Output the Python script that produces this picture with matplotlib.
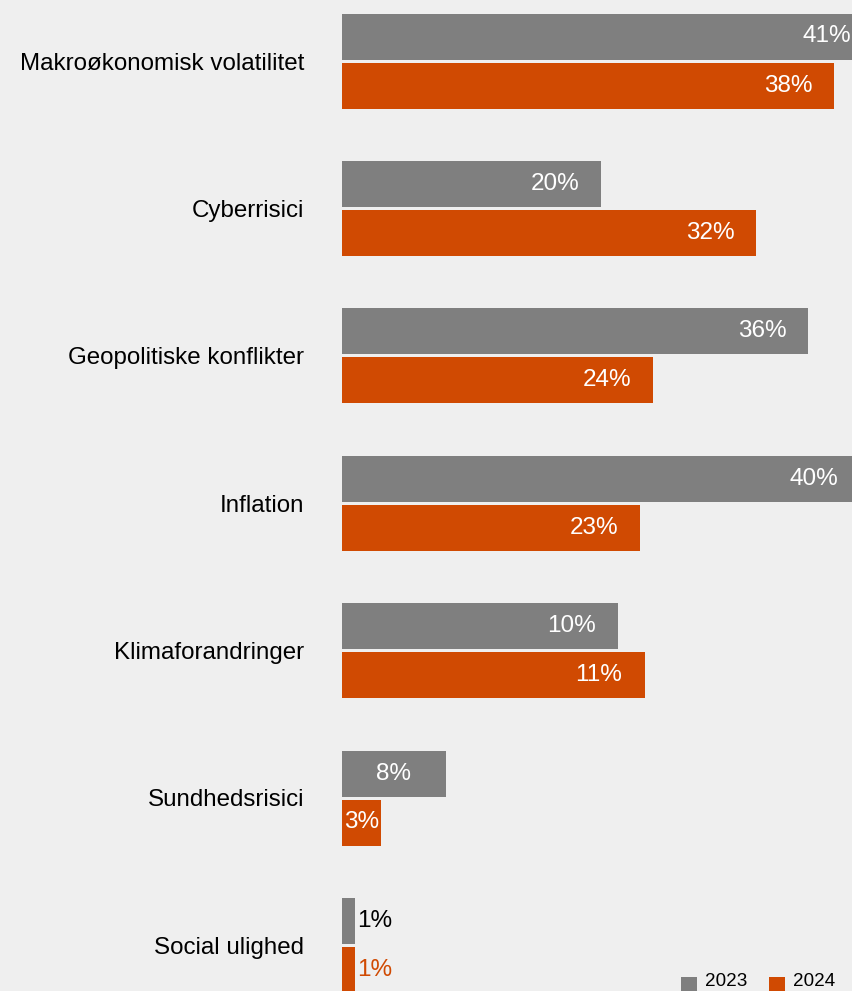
import matplotlib
matplotlib.use("Agg")
import matplotlib.pyplot as plt
from matplotlib.patches import Rectangle

plt.rcParams["font.family"] = ["Liberation Sans", "DejaVu Sans"]

# ─── DONNÉES ──────────────────────────────────────────────────────────────────
categories = [
    "Makroøkonomisk volatilitet",
    "Cyberrisici",
    "Geopolitiske konflikter",
    "Inflation",
    "Klimaforandringer",
    "Sundhedsrisici",
    "Social ulighed",
]
# longueurs de barres (en %)
bars_2023 = [41, 20, 36, 40, 21.3, 8, 1]
bars_2024 = [38, 32, 24, 23, 23.4, 3, 1]
# étiquettes affichées
labels_2023 = ["41%", "20%", "36%", "40%", "10%", "8%", "1%"]
labels_2024 = ["38%", "32%", "24%", "23%", "11%", "3%", "1%"]
years = ["2023", "2024"]

GREY = "#7F7F7F"
ORANGE = "#D04A02"
BG = "#EFEFEF"

W, H = 852, 991
fig = plt.figure(figsize=(W / 100, H / 100), dpi=100, facecolor=BG)
ax = fig.add_axes([342 / W, 0, 1 - 342 / W, 1])
ax.set_facecolor(BG)

px_per_unit = 12.95
ax.set_xlim(0, (W - 342) / px_per_unit)
pitch = 147.4
ax.set_ylim((H - 61) / pitch, -61 / pitch)

off = 24.5 / pitch
h = 46 / pitch
ypos = list(range(len(categories)))
y23 = [y - off for y in ypos]
y24 = [y + off for y in ypos]
ax.barh(y23, bars_2023, height=h, color=GREY, left=0)
ax.barh(y24, bars_2024, height=h, color=ORANGE, left=0)

label_off = 46 / px_per_unit
FS_VAL = 17.5
def put_labels(ys, vals, labels, color):
    for y, v, lab in zip(ys, vals, labels):
        if v > 9:
            ax.text(v - label_off, y, lab, ha="center", va="center",
                    color="white", fontsize=FS_VAL)
        elif v >= 2.5:
            ax.text(v / 2, y, lab, ha="center", va="center",
                    color="white", fontsize=FS_VAL)
        else:
            ax.text(v + 0.2, y, lab, ha="left", va="center",
                    color=color, fontsize=FS_VAL)

put_labels(y23, bars_2023, labels_2023, "black")
put_labels(y24, bars_2024, labels_2024, ORANGE)

ax.set_yticks(ypos)
ax.set_yticklabels(categories, fontsize=17.4)
ax.tick_params(axis="y", length=0, pad=27)
ax.set_xticks([])
for s in ax.spines.values():
    s.set_visible(False)

# ─── LÉGENDE ──────────────────────────────────────────────────────────────────
for x0, col, yr in zip([681, 769], [GREY, ORANGE], years):
    fig.add_artist(Rectangle((x0 / W, 1 - 993 / H), 16 / W, 16 / H,
                             transform=fig.transFigure, color=col, lw=0))
    fig.text((x0 + 24) / W, 1 - 990 / H, yr, fontsize=13.6, va="bottom", ha="left")

fig.savefig("out.png", dpi=100, facecolor=BG)
